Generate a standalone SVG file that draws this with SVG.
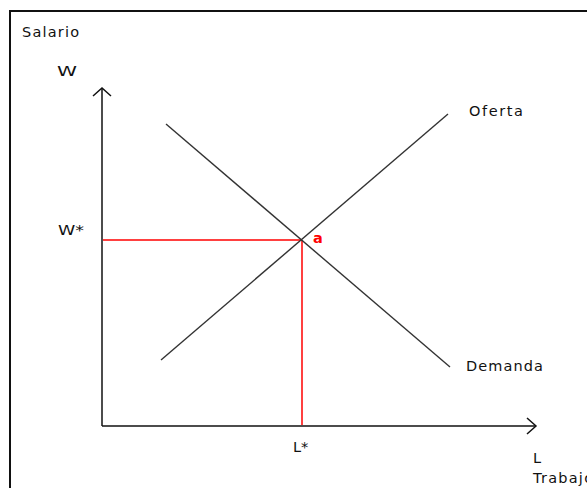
<svg xmlns="http://www.w3.org/2000/svg" width="587" height="488" viewBox="0 0 587 488">
  <style>
    text { font-family: "DejaVu Sans", Verdana, sans-serif; font-size: 14.5px; fill: #111; }
    .red { fill: #ff0000; }
    .ax { stroke: #111; stroke-width: 1.5; fill: none; }
    .curve { stroke: #333; stroke-width: 1.4; fill: none; }
    .guide { stroke: #ff0000; stroke-width: 1.5; fill: none; }
  </style>
  <rect x="0" y="0" width="587" height="488" fill="#ffffff"/>
  <rect id="frame" x="10" y="11" width="600" height="500" fill="none" stroke="#111" stroke-width="2"/>
  <g id="labels">
    <text x="22" y="37" textLength="57" lengthAdjust="spacing">Salario</text>
    <text x="57" y="76" textLength="20" lengthAdjust="spacingAndGlyphs">W</text>
    <text x="58" y="235" textLength="26" lengthAdjust="spacingAndGlyphs">W*</text>
    <text x="293" y="452">L*</text>
    <text x="533" y="463">L</text>
    <text x="533" y="483" textLength="60" lengthAdjust="spacing">Trabajo</text>
  </g>
  <g id="connectors">
    <line class="ax" x1="102" y1="426" x2="102" y2="88"/>
    <polyline class="ax" points="93,96 102,88 111,96"/>
    <line class="ax" x1="102" y1="426" x2="536" y2="426"/>
    <polyline class="ax" points="527,418 536,426 527,434"/>
    <line class="guide" x1="103" y1="240" x2="302" y2="240"/>
    <line class="guide" x1="302" y1="240" x2="302" y2="425"/>
  </g>
  <g id="oferta">
    <line class="curve" x1="161" y1="360" x2="448" y2="114"/>
    <text x="469" y="116" textLength="54" lengthAdjust="spacing">Oferta</text>
  </g>
  <g id="demanda">
    <line class="curve" x1="166" y1="124" x2="450" y2="367"/>
    <text x="466" y="371" textLength="77" lengthAdjust="spacing">Demanda</text>
  </g>
  <g id="a">
    <text class="red" x="313" y="243" font-weight="bold">a</text>
  </g>
</svg>
